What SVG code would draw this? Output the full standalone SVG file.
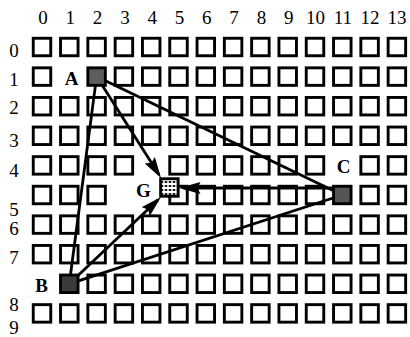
<svg xmlns="http://www.w3.org/2000/svg" xmlns:xlink="http://www.w3.org/1999/xlink" width="410" height="337" viewBox="0 0 410 337">
<style>
.box{fill:#fff;stroke:#000;stroke-width:2.9}
.num{font-family:"Liberation Serif","Times New Roman",serif;font-size:19px;fill:#000;text-anchor:middle}
.lbl{font-family:"Liberation Serif","Times New Roman",serif;font-size:19px;font-weight:bold;fill:#000;text-anchor:middle}
.ln{stroke:#000;stroke-width:2.8;fill:none}
.arr{stroke:#000;stroke-width:2.8;fill:none;marker-end:url(#ah)}
.sq{stroke:#000;stroke-width:2.9}
</style>
<defs>
<rect id="b" class="box" x="-8.75" y="-8.75" width="17.5" height="17.5"/>
<g id="row">
<use href="#b" x="42"/><use href="#b" x="69.3"/><use href="#b" x="96.6"/><use href="#b" x="123.9"/><use href="#b" x="151.2"/><use href="#b" x="178.5"/><use href="#b" x="205.8"/><use href="#b" x="233.1"/><use href="#b" x="260.4"/><use href="#b" x="287.7"/><use href="#b" x="315"/><use href="#b" x="342.3"/><use href="#b" x="369.6"/><use href="#b" x="396.9"/>
</g>
<marker id="ah" markerUnits="userSpaceOnUse" viewBox="0 0 21 12" refX="17" refY="6" markerWidth="21" markerHeight="12" orient="auto">
<path d="M0,0 L21,6 L0,12 L3,6 z" fill="#000"/>
</marker>
<pattern id="gp" patternUnits="userSpaceOnUse" width="4" height="4">
<rect width="4" height="4" fill="#fff"/>
<ellipse cx="2" cy="2" rx="1.5" ry="1.1" fill="#000"/>
</pattern>
</defs>

<g id="col-labels" class="num">
<text x="43" y="24">0</text><text x="70.3" y="24">1</text><text x="97.6" y="24">2</text><text x="124.9" y="24">3</text><text x="152.2" y="24">4</text><text x="179.5" y="24">5</text><text x="206.8" y="24">6</text><text x="234.1" y="24">7</text><text x="261.4" y="24">8</text><text x="288.7" y="24">9</text><text x="315.5" y="24">10</text><text x="342.8" y="24">11</text><text x="370" y="24">12</text><text x="397" y="24">13</text>
</g>
<g id="row-labels" class="num">
<text x="14" y="57">0</text><text x="14" y="86">1</text><text x="14" y="114">2</text><text x="14" y="147">3</text><text x="14" y="177">4</text><text x="14" y="216">5</text><text x="14" y="235">6</text><text x="14" y="264">7</text><text x="14" y="311">8</text><text x="14" y="334">9</text>
</g>

<g id="grid">
<use href="#row" y="47"/>
<g transform="translate(0,76.6)">
<use href="#b" x="42"/><use href="#b" x="123.9"/><use href="#b" x="151.2"/><use href="#b" x="178.5"/><use href="#b" x="205.8"/><use href="#b" x="233.1"/><use href="#b" x="260.4"/><use href="#b" x="287.7"/><use href="#b" x="315"/><use href="#b" x="342.3"/><use href="#b" x="369.6"/><use href="#b" x="396.9"/>
</g>
<use href="#row" y="106.2"/>
<use href="#row" y="135.8"/>
<g transform="translate(0,165.4)">
<use href="#b" x="42"/><use href="#b" x="69.3"/><use href="#b" x="96.6"/><use href="#b" x="123.9"/><use href="#b" x="178.5"/><use href="#b" x="205.8"/><use href="#b" x="233.1"/><use href="#b" x="260.4"/><use href="#b" x="287.7"/><use href="#b" x="315"/><use href="#b" x="369.6"/><use href="#b" x="396.9"/>
</g>
<g transform="translate(0,195)">
<use href="#b" x="42"/><use href="#b" x="69.3"/><use href="#b" x="96.6"/><use href="#b" x="178.5"/><use href="#b" x="205.8"/><use href="#b" x="233.1"/><use href="#b" x="260.4"/><use href="#b" x="287.7"/><use href="#b" x="315"/><use href="#b" x="369.6"/><use href="#b" x="396.9"/>
</g>
<use href="#row" y="224.6"/>
<use href="#row" y="254.2"/>
<g transform="translate(0,283.8)">
<use href="#b" x="96.6"/><use href="#b" x="123.9"/><use href="#b" x="151.2"/><use href="#b" x="178.5"/><use href="#b" x="205.8"/><use href="#b" x="233.1"/><use href="#b" x="260.4"/><use href="#b" x="287.7"/><use href="#b" x="315"/><use href="#b" x="342.3"/><use href="#b" x="369.6"/><use href="#b" x="396.9"/>
</g>
<use href="#row" y="313.4"/>
</g>

<g id="connectors">
<line class="ln" x1="96.6" y1="76.6" x2="69.3" y2="283.8" stroke-width="5"/>
<line class="ln" x1="96.6" y1="76.6" x2="342.3" y2="195"/>
<line class="ln" x1="69.3" y1="283.8" x2="342.3" y2="195"/>
<line class="arr" x1="96.6" y1="76.6" x2="158.9" y2="174.6"/>
<line class="arr" x1="69.3" y1="283.8" x2="158.1" y2="199.8"/>
<line class="arr" x1="333" y1="188" x2="183.5" y2="188"/>
</g>

<g id="node-A">
<rect class="sq" x="87.85" y="67.85" width="17.5" height="17.5" fill="#5c5c5c"/>
<text class="lbl" x="71.5" y="85">A</text>
</g>
<g id="node-B">
<rect class="sq" x="60.55" y="275.05" width="17.5" height="17.5" fill="#3a3a3a"/>
<text class="lbl" x="41.5" y="292">B</text>
</g>
<g id="node-C">
<rect class="sq" x="333.55" y="186.25" width="17.5" height="17.5" fill="#555"/>
<text class="lbl" x="343.5" y="173">C</text>
</g>
<g id="node-G">
<rect class="sq" x="160.65" y="178.75" width="17.5" height="17.5" fill="url(#gp)"/>
<text class="lbl" x="143.5" y="197">G</text>
</g>
</svg>
